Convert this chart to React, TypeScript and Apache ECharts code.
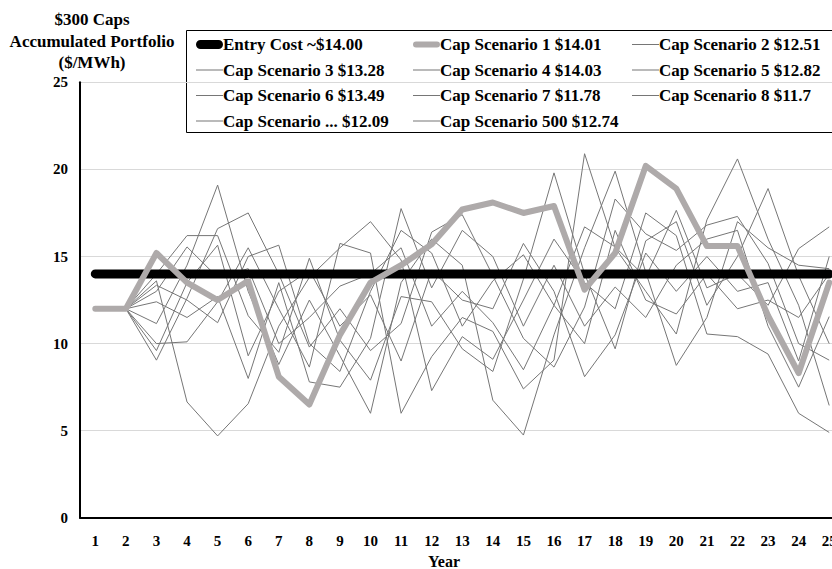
import React, { useEffect, useRef } from "react";
import * as echarts from "echarts";

const years = ["1","2","3","4","5","6","7","8","9","10","11","12","13","14","15","16","17","18","19","20","21","22","23","24","25"];
const yTicks = [0, 5, 10, 15, 20, 25];

const entryCost = [14,14,14,14,14,14,14,14,14,14,14,14,14,14,14,14,14,14,14,14,14,14,14,14,14];
const scen1 = [12,12,15.2,13.5,12.5,13.6,8.1,6.5,10.5,13.5,14.5,15.7,17.7,18.1,17.5,17.9,13.1,15.2,20.2,18.9,15.6,15.6,11.6,8.3,13.5];
const scen2 = [12,12,13.35,12.5,11.2,15.0,15.65,10.0,8.4,13.0,16.5,15.2,11.0,13.6,15.1,12.2,16.7,15.55,13.8,17.65,13.2,14.0,12.2,15.45,16.7];
const scen3 = [12,12,9.05,12.6,16.6,17.5,14.0,9.8,12.0,9.6,11.15,16.4,17.4,13.9,10.3,8.65,12.1,18.3,16.3,15.35,16.8,17.3,14.6,10.0,9.05];
const scen4 = [12,12,14.0,16.2,16.2,11.6,9.5,14.9,10.2,7.9,12.7,12.4,9.7,8.4,13.7,19.8,14.0,9.7,15.9,17.0,12.2,15.0,18.9,13.9,10.0];
const scen5 = [12,12,10.0,10.1,12.4,15.5,12.0,8.65,15.75,15.2,6.0,9.25,11.5,10.7,7.4,9.05,20.9,15.5,13.0,10.55,17.1,20.6,16.0,12.2,6.45];
const scen6 = [12,12,11.15,14.5,19.1,13.0,8.8,12.5,9.3,6.0,13.5,16.0,14.5,6.75,4.75,10.5,15.5,19.9,14.1,8.75,11.5,17.0,15.5,14.5,14.3];
const scen7 = [12,12,13.6,6.65,4.7,6.55,11.0,13.8,15.5,17.0,14.8,7.3,10.4,9.1,12.5,16.0,13.5,12.0,17.5,16.2,10.55,10.4,9.4,6.0,4.9];
const scen8 = [12,12,12.4,11.5,12.7,8.0,13.5,7.8,7.5,10.3,17.75,13.2,16.5,15.0,11.0,14.5,11.0,13.25,11.5,14.5,16.0,16.5,11.0,7.5,11.55];
const scenDots = [12,12,9.6,13.5,15.65,9.3,13.0,14.2,11.0,12.8,9.0,14.2,12.5,12.0,15.75,13.0,8.1,10.5,15.2,13.0,15.0,13.0,13.5,9.0,15.0];
const scen500 = [12,12,13.0,15.55,13.8,14.3,10.0,11.5,13.3,14.0,15.5,11.0,13.0,11.2,8.5,12.2,10.0,16.5,12.5,11.7,14.0,12.0,12.5,11.5,14.0];

const names = {
  entry: "Entry Cost ~$14.00",
  s1: "Cap Scenario 1 $14.01",
  s2: "Cap Scenario 2 $12.51",
  s3: "Cap Scenario 3 $13.28",
  s4: "Cap Scenario 4 $14.03",
  s5: "Cap Scenario 5 $12.82",
  s6: "Cap Scenario 6 $13.49",
  s7: "Cap Scenario 7 $11.78",
  s8: "Cap Scenario 8 $11.7",
  sd: "Cap Scenario ... $12.09",
  s500: "Cap Scenario 500 $12.74",
};

const FONT = "'Liberation Serif', 'Times New Roman', serif";
const THIN = "#767676";
const GRAY = "#aeaaaa";

const iconBlack = "path://M0,0L0.01,0M0,14L0.01,14M4.5,2.5L22.5,2.5A4.5,4.5,0,0,1,22.5,11.5L4.5,11.5A4.5,4.5,0,0,1,4.5,2.5Z";
const iconGray = "path://M0,0L0.01,0M0,14L0.01,14M3,4L24,4A3,3,0,0,1,24,10L3,10A3,3,0,0,1,3,4Z";
const iconThin = "path://M0,0L0.01,0M0,14L0.01,14M0,6.5L27,6.5L27,7.5L0,7.5Z";

export default function App() {
  const ref = useRef<HTMLDivElement>(null);
  useEffect(() => {
    if (!ref.current) return;
    const chart = echarts.init(ref.current, undefined, { renderer: "svg" });

    const thin = (name: string, data: number[]) => ({
      name,
      type: "line",
      data,
      symbol: "none",
      z: 2,
      lineStyle: { color: THIN, width: 1 },
      itemStyle: { color: THIN },
    });

    const legendBase = {
      orient: "vertical",
      top: 31,
      itemWidth: 27,
      itemHeight: 14,
      itemGap: 8.5,
      selectedMode: false,
      itemStyle: { borderWidth: 0 },
      textStyle: {
        fontFamily: FONT,
        fontWeight: "bold",
        fontSize: 17,
        lineHeight: 17,
        color: "#000",
        padding: [0, 0, 0, -5],
      },
    };

    const option = {
      animation: false,
      grid: { left: 80, top: 82.3, width: 764.5, height: 435.5 },
      xAxis: {
        type: "category",
        data: years,
        axisLine: { lineStyle: { color: "#000", width: 2 } },
        axisTick: { show: false },
        axisLabel: { fontFamily: FONT, fontWeight: "bold", fontSize: 15, color: "#000", margin: 16 },
        splitLine: { show: false },
      },
      yAxis: {
        type: "value",
        min: yTicks[0],
        max: yTicks[yTicks.length - 1],
        interval: 5,
        axisLine: { show: true, lineStyle: { color: "#000", width: 2 } },
        axisTick: { show: false },
        axisLabel: { fontFamily: FONT, fontWeight: "bold", fontSize: 15, color: "#000", margin: 12 },
        splitLine: { lineStyle: { color: "#d9d9d9", width: 1 } },
      },
      legend: [
        {
          ...legendBase,
          left: 191,
          data: [
            { name: names.entry, icon: iconBlack },
            { name: names.s3, icon: iconThin },
            { name: names.s6, icon: iconThin },
            { name: names.sd, icon: iconThin },
          ],
        },
        {
          ...legendBase,
          left: 408,
          data: [
            { name: names.s1, icon: iconGray },
            { name: names.s4, icon: iconThin },
            { name: names.s7, icon: iconThin },
            { name: names.s500, icon: iconThin },
          ],
        },
        {
          ...legendBase,
          left: 627,
          data: [
            { name: names.s2, icon: iconThin },
            { name: names.s5, icon: iconThin },
            { name: names.s8, icon: iconThin },
          ],
        },
      ],
      graphic: [
        {
          type: "rect",
          shape: { x: 186.5, y: 30.5, width: 680, height: 102 },
          style: { fill: "#fff", stroke: "#000", lineWidth: 1 },
          z: 0,
        },
        {
          type: "text",
          x: 92,
          y: 9,
          style: {
            text: "$300 Caps\nAccumulated Portfolio\n($/MWh)",
            fontFamily: FONT,
            fontWeight: "bold",
            fontSize: 17,
            lineHeight: 21.5,
            fill: "#000",
            align: "center",
          },
        },
        {
          type: "text",
          x: 444,
          y: 553,
          style: {
            text: "Year",
            fontFamily: FONT,
            fontWeight: "bold",
            fontSize: 16,
            fill: "#000",
            align: "center",
          },
        },
      ],
      series: [
        thin(names.s2, scen2),
        thin(names.s3, scen3),
        thin(names.s4, scen4),
        thin(names.s5, scen5),
        thin(names.s6, scen6),
        thin(names.s7, scen7),
        thin(names.s8, scen8),
        thin(names.sd, scenDots),
        thin(names.s500, scen500),
        {
          name: names.entry,
          type: "line",
          data: entryCost,
          symbol: "none",
          z: 3,
          lineStyle: { color: "#000", width: 9, cap: "round" },
          itemStyle: { color: "#000" },
        },
        {
          name: names.s1,
          type: "line",
          data: scen1,
          symbol: "none",
          z: 4,
          lineStyle: { color: GRAY, width: 6, cap: "round", join: "round" },
          itemStyle: { color: GRAY },
        },
      ],
    };

    chart.setOption(option as any);
    return () => chart.dispose();
  }, []);

  return (
    <div style={{ position: "absolute", left: 0, top: 0, width: 832, height: 569, overflow: "hidden" }}>
      <div ref={ref} style={{ width: 860, height: 569 }} />
    </div>
  );
}
